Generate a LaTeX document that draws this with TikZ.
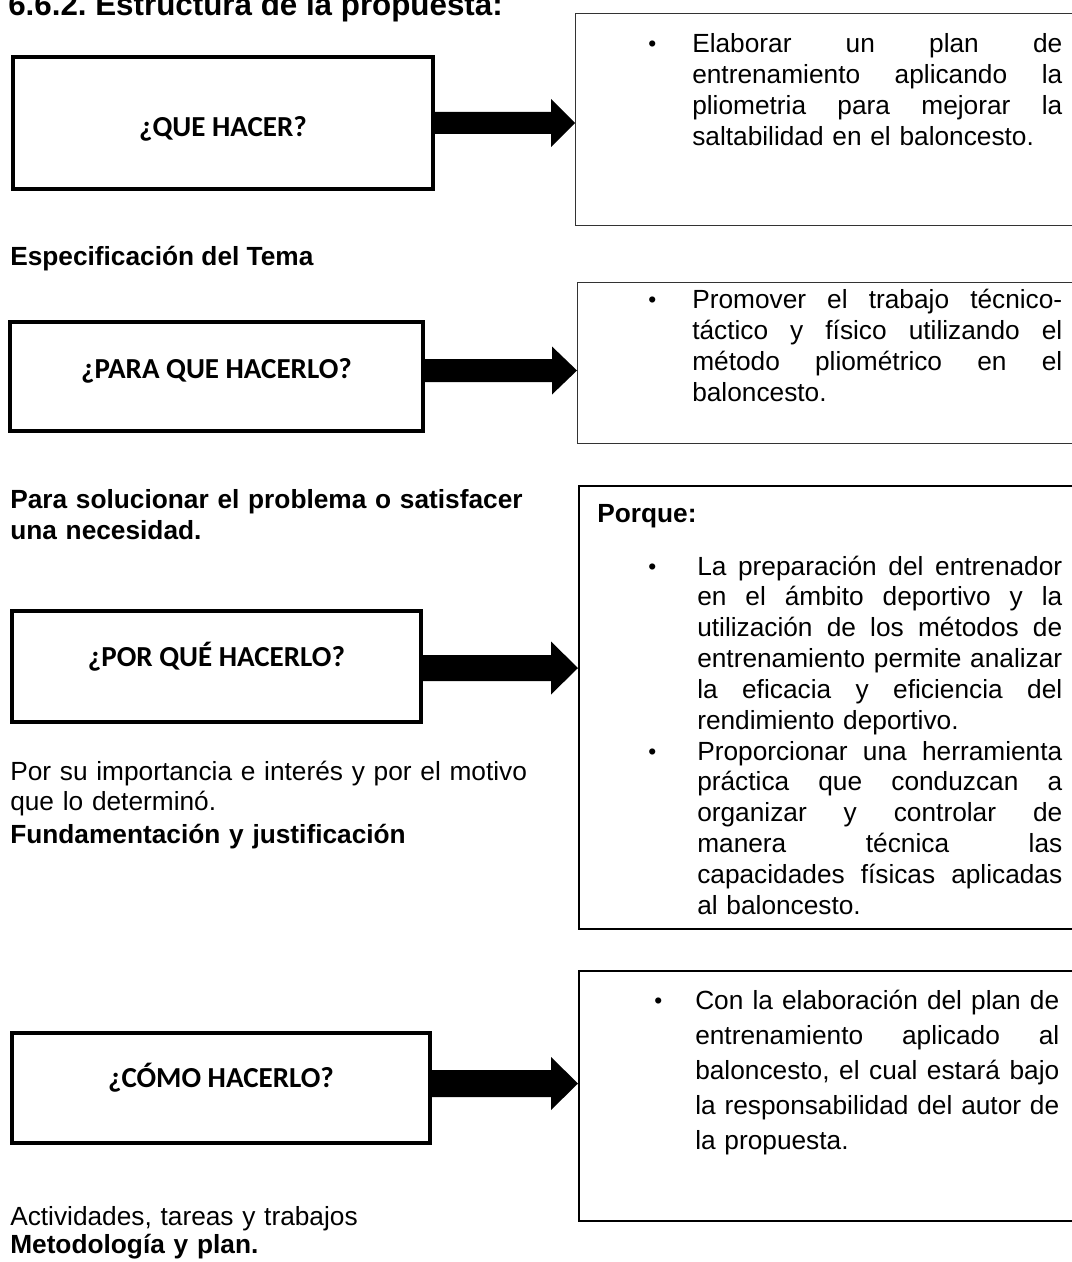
\documentclass[tikz,border=0pt]{standalone}
\usepackage{fontspec}
\setmainfont{Liberation Sans}
\newfontfamily\calfont{Carlito}
\usetikzlibrary{calc}
\frenchspacing
\newlength\jw
\newcommand\jl[1]{{\spaceskip=0pt\xspaceskip=0pt\makebox[\jw][s]{#1}}}
\newcommand\blockarrow[5]{%
  \fill ($(#1)+(0,-#3)$) -- ($(#2)+(-#5,-#3)$) -- ($(#2)+(-#5,-#4)$) -- (#2)
     -- ($(#2)+(-#5,#4)$) -- ($(#2)+(-#5,#3)$) -- ($(#1)+(0,#3)$) -- cycle;}
\tikzset{
  qbox/.style={draw=black, line width=3pt, rectangle, inner sep=0pt},
  rbox/.style={draw=black, rectangle, inner sep=0pt},
  qlabel/.style={font=\calfont\bfseries\fontsize{21.75pt}{26pt}\selectfont, anchor=base, inner sep=0pt},
  body/.style={font=\fontsize{19.7pt}{23.1pt}\selectfont, inner sep=0pt, anchor=base west},
  bodyb/.style={body, font=\bfseries\fontsize{19.7pt}{23.1pt}\selectfont},
  para/.style={body, text width=#1, execute at begin node={\setlength{\jw}{#1}}},
  bul/.style={body, font=\fontsize{17pt}{20pt}\selectfont},
}
\begin{document}
\begin{tikzpicture}[x=0.75pt,y=-0.75pt]
\path[use as bounding box] (0,0) rectangle (1071,1262);
% title
\node[bodyb, font=\bfseries\fontsize{23.5pt}{28pt}\selectfont] (title) at (8,16) {6.6.2. Estructura de la propuesta:};
% left boxes
\node[qbox, minimum width=315pt, minimum height=99pt] (b1) at (223,123) {};
\node[qlabel] (l1) at (223,137) {¿QUE HACER?};
\node[qbox, minimum width=309.75pt, minimum height=81.75pt] (b2) at (216.5,376.5) {};
\node[qlabel] (l2) at (216.5,378) {¿PARA QUE HACERLO?};
\node[qbox, minimum width=306.75pt, minimum height=83.25pt] (b3) at (216.5,666.5) {};
\node[qlabel] (l3) at (216.5,666) {¿POR QUÉ HACERLO?};
\node[qbox, minimum width=313.5pt, minimum height=82.5pt] (b4) at (221,1088) {};
\node[qlabel] (l4) at (221,1087) {¿CÓMO HACERLO?};
% right boxes
\node[rbox, draw=black!80, line width=0.75pt, minimum width=375pt, minimum height=159pt] (r1) at (825.5,119.5) {};
\node[rbox, draw=black!80, line width=0.75pt, minimum width=373.5pt, minimum height=120.75pt] (r2) at (826.5,363) {};
\node[rbox, line width=1.5pt, minimum width=372pt, minimum height=332pt] (r3) at (827,707.5) {};
\node[rbox, line width=1.5pt, minimum width=372pt, minimum height=187.5pt] (r4) at (827,1096) {};
% block arrows
\coordinate (a1s) at (b1.east |- 0,123);
\coordinate (a1e) at (r1.west |- 0,123);
\blockarrow{a1s}{a1e}{11}{24}{24}
\coordinate (a2s) at (b2.east |- 0,370.5);
\coordinate (a2e) at (r2.west |- 0,370.5);
\blockarrow{a2s}{a2e}{11.5}{24}{25}
\coordinate (a3s) at (b3.east |- 0,668);
\coordinate (a3e) at (r3.west |- 0,668);
\blockarrow{a3s}{a3e}{13}{26.5}{27}
\coordinate (a4s) at (b4.east |- 0,1083.5);
\coordinate (a4e) at (r4.west |- 0,1083.5);
\blockarrow{a4s}{a4e}{13.5}{26.5}{27}
% right box texts
\node[bul] (bu1) at (648,52) {•};
\node[para=277.5pt] (t1) at (692,53) {\jl{Elaborar un plan de}\\ \jl{entrenamiento aplicando la}\\ \jl{pliometria para mejorar la}\\ saltabilidad en el baloncesto.};
\node[bul] (bu2) at (648,308) {•};
\node[para=277.5pt] (t2) at (692,309) {\jl{Promover el trabajo técnico-}\\ \jl{táctico y físico utilizando el}\\ \jl{método pliométrico en el}\\ baloncesto.};
\node[bodyb] (porque) at (597,522) {Porque:};
\node[bul] (bu3) at (648,574) {•};
\node[para=273.75pt] (t3) at (697,575) {\jl{La preparación del entrenador}\\ \jl{en el ámbito deportivo y la}\\ \jl{utilización de los métodos de}\\ \jl{entrenamiento permite analizar}\\ \jl{la eficacia y eficiencia del}\\ rendimiento deportivo.};
\node[bul] (bu4) at (648,759) {•};
\node[para=273.75pt] (t4) at (697,760) {\jl{Proporcionar una herramienta}\\ \jl{práctica que conduzcan a}\\ \jl{organizar y controlar de}\\ \jl{manera técnica las}\\ \jl{capacidades físicas aplicadas}\\ al baloncesto.};
\node[bul] (bu5) at (654,1008) {•};
\node[para=273pt, font=\fontsize{19.7pt}{26.25pt}\selectfont] (t5) at (695,1009) {\jl{Con la elaboración del plan de}\\ \jl{entrenamiento aplicado al}\\ \jl{baloncesto, el cual estará bajo}\\ \jl{la responsabilidad del autor de}\\ la propuesta.};
% left texts
\node[bodyb] (spec) at (10,266) {Especificación del Tema};
\node[para=600pt, font=\bfseries\fontsize{19.7pt}{23.25pt}\selectfont] (sol) at (10,508) {Para solucionar el problema o satisfacer\\ una necesidad.};
\node[para=600pt, font=\fontsize{19.7pt}{22.5pt}\selectfont] (imp) at (10,780) {Por su importancia e interés y por el motivo\\ que lo determinó.\\[2.25pt] \textbf{Fundamentación y justificación}};
\node[para=600pt, font=\fontsize{19.7pt}{21pt}\selectfont] (act) at (10,1225) {Actividades, tareas y trabajos\\ \textbf{Metodología y plan.}};
\end{tikzpicture}
\end{document}
